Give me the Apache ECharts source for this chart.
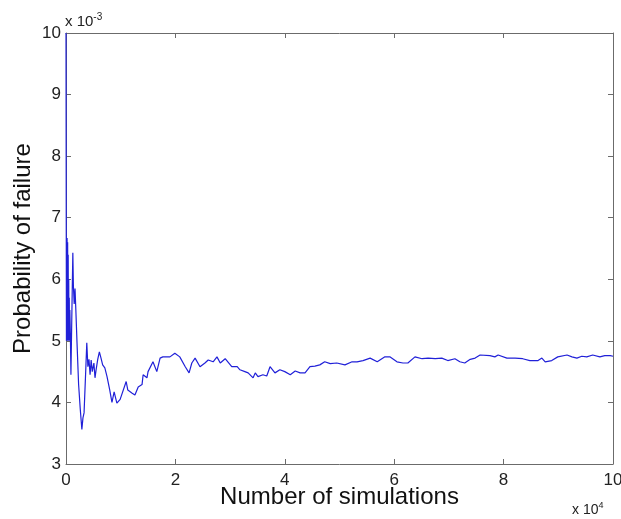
<!DOCTYPE html>
<html>
<head>
<meta charset="utf-8">
<script src="https://cdn.jsdelivr.net/npm/echarts@6/dist/echarts.min.js"></script>
<style>
  html, body { margin: 0; padding: 0; background: #fff; }
  #chart { width: 621px; height: 519px; }
</style>
</head>
<body>
<div id="chart"></div>
<script>
// number of simulations, in units of 10^4
const simCount = [
  0, 0.005, 0.008, 0.012, 0.016, 0.02, 0.025, 0.03, 0.035, 0.04, 0.045, 0.05, 0.055, 0.06, 0.065, 0.07,
  0.08, 0.09, 0.11, 0.125, 0.135, 0.15, 0.165, 0.18, 0.2, 0.23, 0.26, 0.29, 0.31, 0.33, 0.36, 0.38,
  0.40, 0.42, 0.44, 0.46, 0.48, 0.51, 0.53, 0.55, 0.58, 0.61, 0.64, 0.67, 0.71, 0.75, 0.8, 0.84,
  0.88, 0.93, 0.99, 1.02, 1.1, 1.13, 1.21, 1.26, 1.32, 1.39, 1.41, 1.48, 1.5, 1.59, 1.66, 1.72,
  1.77, 1.9, 1.99, 2.08, 2.18, 2.25, 2.3, 2.36, 2.45, 2.54, 2.6, 2.69, 2.76, 2.82, 2.91, 3.03,
  3.13, 3.18, 3.27, 3.33, 3.42, 3.46, 3.51, 3.6, 3.67, 3.73, 3.82, 3.91, 4.0, 4.1, 4.19, 4.28,
  4.37, 4.46, 4.55, 4.64, 4.73, 4.83, 4.95, 5.1, 5.23, 5.32, 5.43, 5.56, 5.69, 5.83, 5.92, 6.05,
  6.16, 6.25, 6.38, 6.51, 6.62, 6.75, 6.87, 6.98, 7.11, 7.2, 7.29, 7.39, 7.48, 7.57, 7.75, 7.84,
  7.9, 8.06, 8.21, 8.35, 8.48, 8.63, 8.7, 8.76, 8.88, 8.99, 9.16, 9.25, 9.34, 9.43, 9.52, 9.63,
  9.76, 9.85, 9.95, 10
];
// probability of failure, in units of 10^-3
const pFail = [
  10, 6.67, 5.0, 6.67, 5.0, 6.67, 5.0, 6.6, 5.0, 6.4, 5.0, 6.0, 5.0, 5.7, 5.0, 5.5,
  5.1, 4.45, 5.6, 6.43, 5.9, 5.6, 5.85, 5.5, 5.0, 4.3, 3.9, 3.56, 3.75, 3.83, 4.5, 4.97,
  4.58, 4.7, 4.45, 4.69, 4.5, 4.64, 4.4, 4.53, 4.7, 4.82, 4.72, 4.61, 4.56, 4.42, 4.2, 4.0,
  4.17, 3.99, 4.05, 4.08, 4.34, 4.2, 4.15, 4.12, 4.25, 4.29, 4.45, 4.4, 4.5, 4.66, 4.5, 4.72,
  4.74, 4.74, 4.8, 4.74, 4.58, 4.48, 4.64, 4.72, 4.58, 4.64, 4.69, 4.66, 4.74, 4.64, 4.71, 4.58,
  4.58, 4.53, 4.5, 4.48, 4.4, 4.48, 4.42, 4.45, 4.43, 4.58, 4.48, 4.53, 4.5, 4.45, 4.51, 4.48,
  4.48, 4.58, 4.59, 4.61, 4.66, 4.63, 4.64, 4.61, 4.66, 4.66, 4.68, 4.72, 4.66, 4.74, 4.74, 4.66,
  4.64, 4.64, 4.74, 4.71, 4.72, 4.71, 4.72, 4.68, 4.71, 4.66, 4.64, 4.7, 4.72, 4.77, 4.76, 4.74,
  4.77, 4.72, 4.72, 4.71, 4.68, 4.68, 4.72, 4.66, 4.68, 4.74, 4.77, 4.74, 4.72, 4.75, 4.74, 4.77,
  4.74, 4.76, 4.76, 4.75
];

const xMin = 0, xMax = 10, xStep = 2;
const yMin = 3, yMax = 10, yStep = 1;

const font = '"Liberation Sans", Arial, sans-serif';
const axisGrey = '#6b6b6b';

var chart = echarts.init(document.getElementById('chart'));

const boxAxis = {
  axisLine: { show: true, onZero: false, lineStyle: { color: axisGrey, width: 1 } },
  axisTick: { show: true, inside: true, length: 5, lineStyle: { color: axisGrey } },
  splitLine: { show: false }
};

var option = {
  animation: false,
  backgroundColor: '#fff',
  grid: { left: 66, right: 8, top: 33, bottom: 55, containLabel: false, outerBoundsMode: 'none' },
  xAxis: [
    Object.assign({
      type: 'value', position: 'bottom', min: xMin, max: xMax, interval: xStep,
      name: 'Number of simulations', nameLocation: 'middle', nameGap: 21, nameMoveOverlap: false,
      nameTextStyle: { fontFamily: font, fontSize: 24, color: '#111' },
      axisLabel: { fontFamily: font, fontSize: 17, color: '#222', margin: 8 }
    }, boxAxis),
    Object.assign({
      type: 'value', position: 'top', min: xMin, max: xMax, interval: xStep,
      axisLabel: { show: false }
    }, boxAxis)
  ],
  yAxis: [
    Object.assign({
      type: 'value', position: 'left', min: yMin, max: yMax, interval: yStep,
      name: 'Probability of failure', nameLocation: 'middle', nameGap: 31, nameMoveOverlap: false,
      nameTextStyle: { fontFamily: font, fontSize: 24, color: '#111' },
      axisLabel: { fontFamily: font, fontSize: 17, color: '#222', margin: 5 }
    }, boxAxis),
    Object.assign({
      type: 'value', position: 'right', min: yMin, max: yMax, interval: yStep,
      axisLabel: { show: false }
    }, boxAxis)
  ],
  graphic: [
    {
      type: 'text', left: 65, top: 12,
      style: {
        text: '{a|x 10}{b|-3}',
        rich: {
          a: { fontFamily: font, fontSize: 15, fill: '#222' },
          b: { fontFamily: font, fontSize: 10, fill: '#222', verticalAlign: 'top', padding: [0, 0, 10, 0] }
        }
      }
    },
    {
      type: 'text', left: 572, top: 501,
      style: {
        text: '{a|x 10}{b|4}',
        rich: {
          a: { fontFamily: font, fontSize: 14, fill: '#222' },
          b: { fontFamily: font, fontSize: 9, fill: '#222', verticalAlign: 'top', padding: [0, 0, 9, 0] }
        }
      }
    }
  ],
  series: [
    {
      type: 'line',
      xAxisIndex: 0,
      yAxisIndex: 0,
      data: simCount.map((x, i) => [x, pFail[i]]),
      showSymbol: false,
      clip: true,
      lineStyle: { color: '#2020d8', width: 1.2 }
    }
  ]
};

chart.setOption(option);
</script>
</body>
</html>
